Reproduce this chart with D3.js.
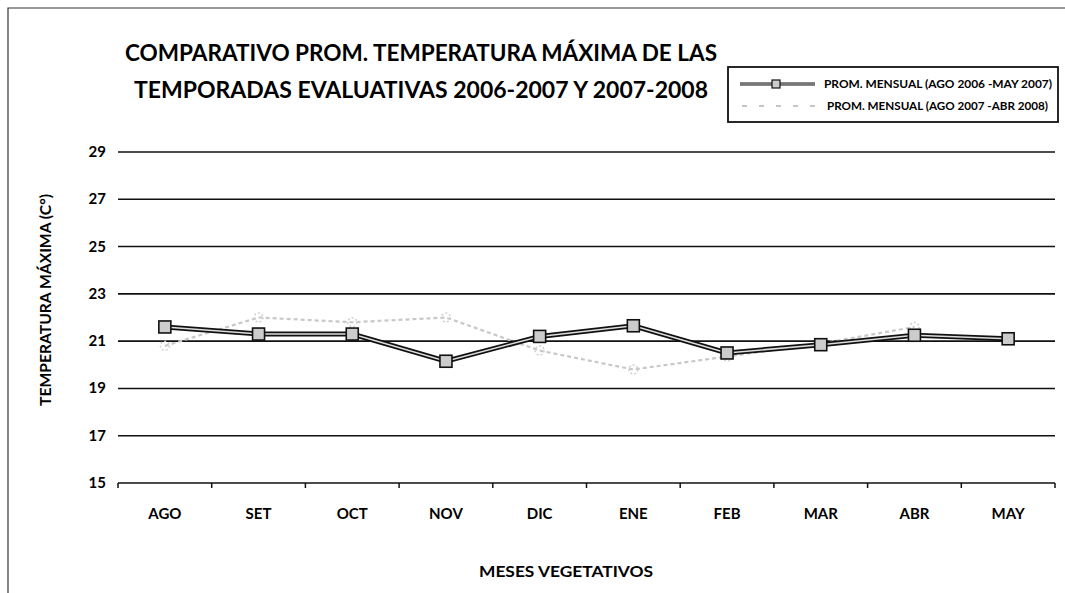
<!DOCTYPE html>
<html><head><meta charset="utf-8">
<script src="https://cdn.jsdelivr.net/npm/d3@7"></script>
<style>body{margin:0;background:#fff}svg{display:block}text{font-family:Lato,"Open Sans",sans-serif;font-weight:bold;fill:#000}</style>
</head><body><svg id="c" width="1065" height="593"></svg>
<script>
const months = ["AGO","SET","OCT","NOV","DIC","ENE","FEB","MAR","ABR","MAY"];
const serie1 = [21.6, 21.3, 21.3, 20.15, 21.2, 21.65, 20.5, 20.85, 21.25, 21.1];
const serie2 = [20.8, 22.0, 21.8, 22.0, 20.6, 19.8, 20.35, 20.9, 21.6, null];
const yTicks = [15,17,19,21,23,25,27,29];
const seriesNames = ["PROM. MENSUAL (AGO 2006 -MAY 2007)","PROM. MENSUAL (AGO 2007 -ABR 2008)"];
const titleLines = ["COMPARATIVO PROM. TEMPERATURA MÁXIMA DE LAS","TEMPORADAS EVALUATIVAS 2006-2007 Y 2007-2008"];

const svg = d3.select("#c");
const L=118, R=1055, T=152, B=483;
const x = d3.scaleBand().domain(months).range([L,R]);
const y = d3.scaleLinear().domain([15,29]).range([B,T]);

// outer frame
svg.append("path").attr("d","M8,593 V8 H1065").attr("fill","none").attr("stroke","#333").attr("stroke-width",1.2);

// title
svg.selectAll(".title").data(titleLines).join("text")
  .attr("x",421).attr("y",(d,i)=>61+i*37).attr("text-anchor","middle")
  .attr("font-size",22).attr("textLength",(d,i)=>i?574:592).attr("lengthAdjust","spacingAndGlyphs").text(d=>d);

// gridlines
svg.append("g").selectAll("line").data(yTicks).join("line")
  .attr("x1",L).attr("x2",R).attr("y1",d=>y(d)).attr("y2",d=>y(d))
  .attr("stroke","#111").attr("stroke-width",1.6);

// x axis (ticks at band edges + labels)
const gx = svg.append("g").attr("transform",`translate(0,${B})`);
gx.selectAll("line.tk").data(months.map(m=>x(m)).concat([R])).join("line")
  .attr("x1",d=>d).attr("x2",d=>d).attr("y1",0).attr("y2",5).attr("stroke","#111").attr("stroke-width",1.5);
gx.selectAll("text").data(months).join("text")
  .attr("x",d=>x(d)+x.bandwidth()/2).attr("y",36)
  .attr("text-anchor","middle").attr("font-size",15).text(d=>d);

// y tick labels
svg.append("g").selectAll("text").data(yTicks).join("text")
  .attr("x",106).attr("y",d=>y(d)+5).attr("text-anchor","end").attr("font-size",15).attr("font-weight","normal").text(d=>d);

// axis titles
svg.append("text").attr("transform","translate(51,300) rotate(-90)").attr("text-anchor","middle")
  .attr("font-size",15).attr("textLength",212).attr("lengthAdjust","spacingAndGlyphs").text("TEMPERATURA MÁXIMA (C°)");
svg.append("text").attr("x",566).attr("y",577).attr("text-anchor","middle").attr("font-size",16)
  .attr("textLength",174).attr("lengthAdjust","spacingAndGlyphs").text("MESES VEGETATIVOS");

const cx = d=>x(d)+x.bandwidth()/2;

// series 2 (light dashed)
const d2 = months.map((m,i)=>({m,v:serie2[i]})).filter(d=>d.v!=null);
const line = d3.line().x(d=>cx(d.m)).y(d=>y(d.v));
svg.append("path").attr("d",line(d2)).attr("fill","none").attr("stroke","#c8c8c8").attr("stroke-width",2.2).attr("stroke-dasharray","4,3");
svg.append("g").selectAll("circle").data(d2).join("circle").attr("cx",d=>cx(d.m)).attr("cy",d=>y(d.v)).attr("r",4.5)
  .attr("fill","none").attr("stroke","#d0d0d0").attr("stroke-width",1.5).attr("stroke-dasharray","2,2");

// series 1 (double line with square markers)
const d1 = months.map((m,i)=>({m,v:serie1[i]}));
svg.append("path").attr("d",line(d1)).attr("fill","none").attr("stroke","#111").attr("stroke-width",5);
svg.append("path").attr("d",line(d1)).attr("fill","none").attr("stroke","#ddd").attr("stroke-width",1.5);
svg.append("g").selectAll("rect").data(d1).join("rect")
  .attr("x",d=>cx(d.m)-6).attr("y",d=>y(d.v)-6).attr("width",12).attr("height",12)
  .attr("fill","#ccc").attr("stroke","#111").attr("stroke-width",1.6);

// legend
const lg = svg.append("g");
lg.append("rect").attr("x",728).attr("y",67).attr("width",330).attr("height",55).attr("fill","#fff").attr("stroke","#111").attr("stroke-width",1.8);
lg.append("line").attr("x1",740).attr("x2",815).attr("y1",84).attr("y2",84).attr("stroke","#111").attr("stroke-width",3);
lg.append("line").attr("x1",740).attr("x2",815).attr("y1",84).attr("y2",84).attr("stroke","#ddd").attr("stroke-width",1);
lg.append("rect").attr("x",772).attr("y",80).attr("width",8).attr("height",8).attr("fill","#ccc").attr("stroke","#111").attr("stroke-width",1.2);
lg.append("line").attr("x1",742).attr("x2",815).attr("y1",106).attr("y2",106).attr("stroke","#c4c4c4").attr("stroke-width",2).attr("stroke-dasharray","5,12");
lg.selectAll("text").data(seriesNames).join("text")
  .attr("x",(d,i)=>i?827:824).attr("y",(d,i)=>88+i*22).attr("font-size",11.5).attr("font-weight","normal")
  .attr("textLength",(d,i)=>i?221:228).attr("lengthAdjust","spacingAndGlyphs").text(d=>d);
</script></body></html>
